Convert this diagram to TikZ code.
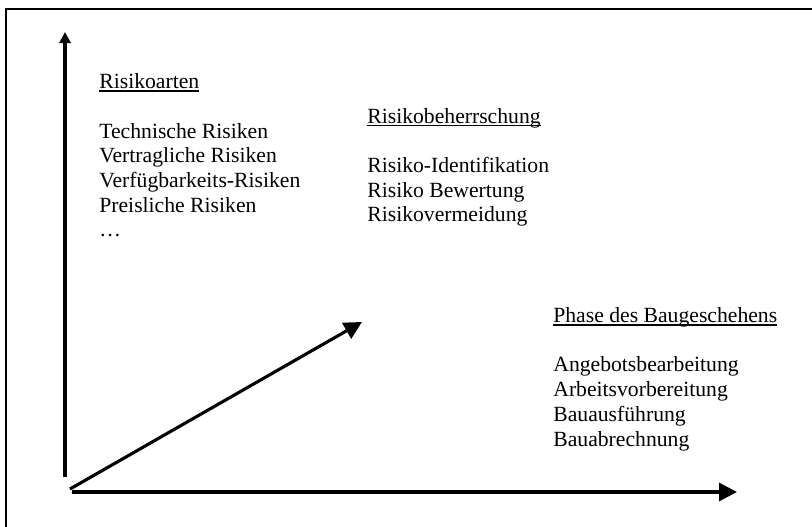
\documentclass[tikz,border=0pt]{standalone}
\usepackage{fontspec}
\setmainfont{Liberation Serif}
\usetikzlibrary{arrows.meta}
\newcommand{\unterstr}[1] % {text} unterstrichen, Linie unabh. von Unterlaengen
{\setbox0\hbox{#1}\rlap{\rule[-1.7pt]{\wd0}{0.8pt}}\box0}

\begin{document}
\begin{tikzpicture}[x=0.563pt,y=-0.563pt,
		achse/.style={line width=1.75pt, -{Triangle[length=10pt,width=10pt]}},
		liste/.style={anchor=base west, inner sep=0pt, align=left, font=\fontsize{12.2}{13.9}\selectfont}]
		\useasboundingbox (0,0) rectangle (812,527);
		\begin{scope}
			\clip (0,0) rectangle (812,527);
			\draw [line width=0.6pt] (6,9) rectangle (840,560);
		\end{scope}
		
		\coordinate (nullV) at (65,477);
		\coordinate (obenV) at (65,32);
		\coordinate (nullH) at (72,492);
		\coordinate (rechtsH) at (737,492);
		\coordinate (nullD) at (70,489);
		\coordinate (spitzeD) at (362,322);
		
		\draw [achse, -{Triangle[length=6.2pt,width=6.2pt]}] (nullV) -- (obenV);
		\draw [achse] (nullH) -- (rechtsH);
		\draw [achse] (nullD) -- (spitzeD);
		
		% base = Grundlinie der letzten Zeile
		\node [liste] (risikoarten) at (99,237) {\unterstr{Risikoarten}\\[13.9pt]
			Technische Risiken\\Vertragliche Risiken\\Verfügbarkeits-Risiken\\Preisliche Risiken\\\dots};
		\node [liste] (beherrschung) at (367,222) {\unterstr{Risikobeherrschung}\\[13.9pt]
			Risiko-Identifikation\\Risiko Bewertung\\Risikovermeidung};
		\node [liste] (phase) at (553,446) {\unterstr{Phase des Baugeschehens}\\[13.9pt]
			Angebotsbearbeitung\\Arbeitsvorbereitung\\Bauausführung\\Bauabrechnung};
	\end{tikzpicture}
\end{document}
